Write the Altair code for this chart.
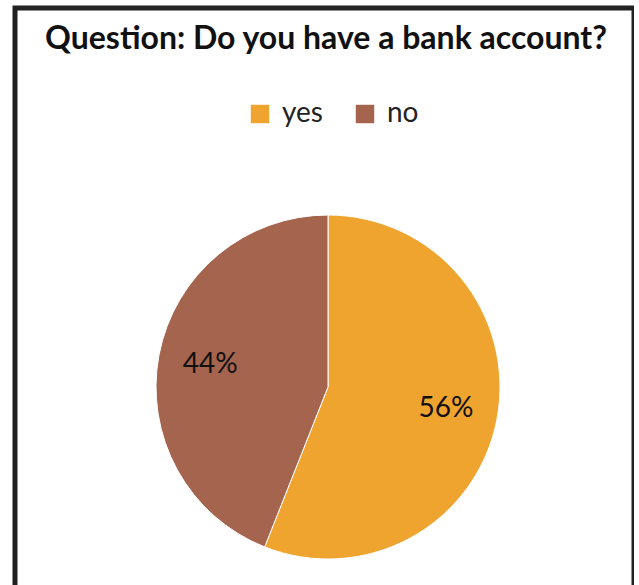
import altair as alt
import pandas as pd

answers = ["yes", "no"]
shares = [56, 44]
labels = ["56%", "44%"]
colors = ["#F0A430", "#A5644E"]
title_text = "Question: Do you have a bank account?"

df = pd.DataFrame({"answer": answers, "share": shares, "label": labels, "order": [0, 1]})

color = alt.Color(
    "answer:N",
    scale=alt.Scale(domain=answers, range=colors),
    sort=answers,
    legend=alt.Legend(
        title=None,
        orient="none",
        legendX=231,
        legendY=92,
        direction="horizontal",
        symbolType="square",
        symbolSize=340,
        symbolStrokeWidth=0,
        labelFont="Lato",
        labelFontSize=28,
        labelColor="#222222",
        columnPadding=28,
        labelOffset=8,
    ),
)

base = alt.Chart(df).encode(
    theta=alt.Theta("share:Q", stack=True),
    order=alt.Order("order:Q"),
)

pie = base.mark_arc(outerRadius=172, stroke="white", strokeWidth=1).encode(
    color=color,
    x=alt.value(313),
    y=alt.value(379),
)

text = base.mark_text(radius=120, font="Lato", fontSize=28, color="#111111").encode(
    text="label:N",
    x=alt.value(313),
    y=alt.value(379),
)

title = alt.Chart(pd.DataFrame({"t": [title_text]})).mark_text(
    font="Lato", fontSize=32, fontWeight="bold", color="#111111"
).encode(text="t:N", x=alt.value(311), y=alt.value(31))

chart = (
    alt.layer(pie, text, title)
    .properties(
        width=619,
        height=620,
        autosize=alt.AutoSizeParams(type="none"),
        padding={"left": 15, "top": 8, "right": 0, "bottom": 0},
        background="white",
    )
    .configure_view(stroke="#222222", strokeWidth=5)
)

chart.save("out.html", embed_options={"renderer": "svg", "actions": False})
